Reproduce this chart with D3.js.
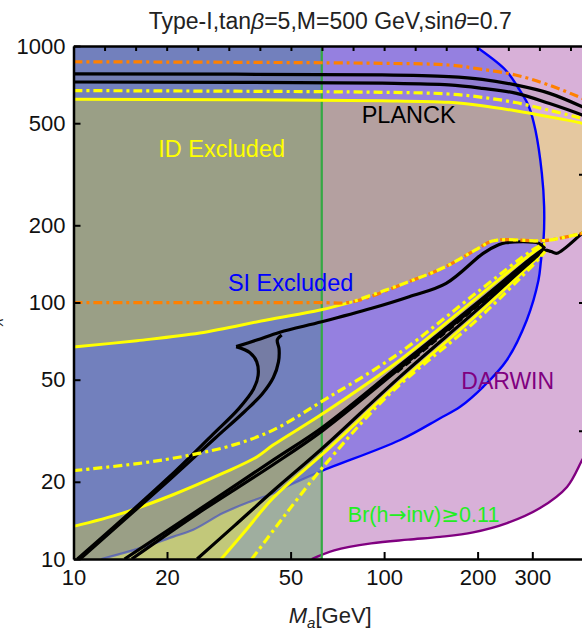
<!DOCTYPE html>
<html>
<head>
<meta charset="utf-8">
<script src="https://cdn.jsdelivr.net/npm/d3@7"></script>
<style>
body { margin: 0; background: #fff; }
text { font-family: "Liberation Sans", Arial, sans-serif; }
</style>
</head>
<body>
<svg id="chart" width="582" height="633"></svg>
<script>
// ---- data (M_a, M_chi) in GeV ----
const xTickVals = [10, 20, 50, 100, 200, 300];
const yTickVals = [10, 20, 50, 100, 200, 500, 1000];
const higgsCut = 63; // Br(h->inv) line, M_a ~ m_h/2

const darwinEdge = [[58.5,10],[69.1,10.8],[90.8,11.5],[119.4,11.9],[151.4,12.2],[193.5,12.7],[248.8,13.8],[317.7,15.8],[388,19.1],[434,24.3],[450,26.2]];

const siEdge = [[12.3,10],[16.3,11.0],[20.9,12.2],[24.3,13.0],[30.3,15.1],[36.9,16.7],[43.9,18.0],[47.4,18.9],[62.2,21.9],[112.6,29.1],[151.5,35.4],[175.7,39.2],[208.8,47.0],[248.5,59.7],[288,85.5],[314,122],[320,146],[326,175],[327.5,236],[322,319],[307,470],[292.6,580],[273,674],[246,806],[201,980],[196,1000]];

const idTopUpper = [[10,620],[98.5,612],[161.6,603],[206.8,585],[264.7,559],[339.1,530],[434.2,500],[450,494]];
const idTopLower = [[10,67],[16,71],[25.5,76],[41.9,85.5],[62.2,93.5],[79,100.6],[120,120.5],[158,138],[200,162],[225,174],[315,174],[340,175],[434,186],[450,188]];
const idFunUpper = [[10,13.4],[14.4,15.1],[20.9,17.8],[30.3,21.6],[38.9,25],[43.9,27.8],[63.7,37],[112.6,59.7],[200,105],[300,156],[330,168]];
const idFunLower = [[29.9,10],[36,13.0],[43.9,17.3],[63.7,25.8],[112.6,49],[200,90],[300,143],[330,160]];

const ddTop = [[10,670],[98.5,660],[161.6,650],[206.8,631],[264.7,602],[339.1,562],[434.2,522],[450,515]];
const ddFunUpper = [[10,22.1],[16.3,23.6],[23.7,25.4],[32.6,27.8],[43.9,31.8],[65.4,42.3],[109.6,62.4],[200,110],[300,160],[330,170]];
const ddFunLower = [[37.5,10],[45,13.4],[52.3,17],[63.7,22.9],[101.9,42.9],[200,86],[300,139],[330,158]];
const orangeTop = [[10,868],[98.5,856],[161.6,843],[206.8,811],[264.7,771],[339.1,705],[434.2,625],[450,612]];
const orangeLow = [[10,100],[60,100],[79,100.6],[120,120.5],[158,138],[200,162],[225,174],[315,174],[340,175],[434,186],[450,188]];

const planckTopA = [[10,778],[98.5,771],[161.6,759],[206.8,741],[264.7,705],[339.1,655],[434.2,580],[450,568]];
const planckTopB = [[10,724],[98.5,716],[161.6,705],[206.8,684],[264.7,655],[339.1,598],[434.2,538],[450,528]];
const planckOuter = [[10.3,10],[20,20.5],[28,30.5],[34,38.5],[38,46],[39.3,52],[38.9,58.7],[37,63.7],[33.4,67.3]];
const planckMain = [[33.4,67.3],[38.9,71.4],[46.2,76.6],[63,84.1],[91.2,94.9],[120.4,105.3],[158.4,118.8],[208.4,155.5],[232.8,167.5],[246.4,171],[315.5,170],[329,162.5]];
const planckInner = [[10.5,10],[20.5,20.5],[28.5,29.5],[35.5,37.5],[40.5,44],[44,51],[45.7,58.7],[45.9,66],[45.3,71.4],[46.8,74.7]];
const funnelA = [[14.6,10],[25,15.4],[43.9,24.3],[63.7,32.8],[112.6,57],[200,100],[300,150],[329,162.5]];
const funnelB = [[15.4,10],[25,15.0],[43.9,23.3],[63.7,31.8],[112.6,55.5],[200,98],[300,148],[329,162]];
const funnelC = [[25,10],[33,13.5],[43.9,18.4],[63.7,27.2],[112.6,51.4],[200,94],[300,146],[329,160],[345,158],[360,155.6],[434,186],[450,192]];
const funnelDash = [[110,53.5],[200,97],[300,147],[329,161.5]];

// label anchors in data coords; parts given as [text, useSymbolFont]
const labels = [
  {parts: [["PLANCK", 0]], at: [120, 500], c: "#000", fs: 23.5},
  {parts: [["ID Excluded", 0]], at: [30, 370], c: "#ffff00", fs: 23.5},
  {parts: [["SI Excluded", 0]], at: [50, 111], c: "#0000ff", fs: 23.5},
  {parts: [["DARWIN", 0]], at: [250, 46], c: "#800080", fs: 23},
  {parts: [["Br(h", 0], ["\u2192", 1], ["inv)", 0], ["\u2265", 1], ["0.11", 0]], at: [134, 14], c: "#22ee22", fs: 21.5}
];

const regionColors = {
  left:  {base: "#a6b4a6", D: "#9fae9f", DB: "#7280bd", DY: "#c2c87a", DBY: "#9a9f86"},
  right: {base: "#ffffff", D: "#d8b0d8", DB: "#9580e0", DY: "#e5c8a0", DBY: "#b4a0a0"}
};

// ---- scales ----
const svg = d3.select("#chart");
const x = d3.scaleLog().domain([10, 450]).range([73.5, 587]);
const y = d3.scaleLog().domain([10, 1000]).range([559, 46]);
const X0 = x.range()[0], X1 = x.range()[1], Y0 = y.range()[1], Y1 = y.range()[0];
const gx = x(higgsCut);

const line = d3.line().x(d => x(d[0])).y(d => y(d[1])).curve(d3.curveCatmullRom.alpha(0.5));
const seg = pts => pts.length > 1 ? line(pts) : `M${x(pts[0][0])},${y(pts[0][1])}`;
const shape = (...parts) => parts.map((p, i) => i ? seg(p).replace(/^M/, "L") : seg(p)).join("") + "Z";
const rev = a => a.slice().reverse();

const darwinArea = shape([[10,10]], darwinEdge, [[450,1000]], [[10,1000]]);
const siArea = shape(siEdge, [[10,1000]], [[10,10]]);
const idArea = shape(idTopUpper, rev(idTopLower)) + shape(idFunUpper, rev(idFunLower), [[10,10]]);
const loopArea = shape(planckOuter, planckMain.slice(0, 3), rev(planckInner));
const topBand = shape(planckTopA, rev(planckTopB));

const defs = svg.append("defs");
const clipRect = (id, a, b) => defs.append("clipPath").attr("id", id).append("rect")
  .attr("x", a).attr("y", Y0).attr("width", b - a).attr("height", Y1 - Y0);
clipRect("clip-plot", X0, X1);
clipRect("clip-left", X0, gx);
clipRect("clip-right", gx, X1);
defs.append("clipPath").attr("id", "clip-si").append("path").attr("d", siArea);

const plot = svg.append("g").attr("clip-path", "url(#clip-plot)");

// filled regions, painted per side of the Higgs line
["left", "right"].forEach(side => {
  const c = regionColors[side];
  const g = plot.append("g").attr("clip-path", `url(#clip-${side})`);
  g.append("rect").attr("x", X0).attr("y", Y0).attr("width", X1 - X0).attr("height", Y1 - Y0).attr("fill", c.base);
  g.append("path").attr("d", darwinArea).attr("fill", c.D);
  g.append("path").attr("d", siArea).attr("fill", c.DB);
  g.append("path").attr("d", idArea).attr("fill", c.DY);
  g.append("g").attr("clip-path", "url(#clip-si)").append("path").attr("d", idArea).attr("fill", c.DBY);
});

plot.append("path").attr("d", loopArea).attr("fill", "rgba(125,115,105,0.3)");
plot.append("path").attr("d", topBand).attr("fill", "rgba(125,115,105,0.12)");

function draw(parent, pts, color, w, dash, offset) {
  return parent.append("path").attr("d", line(pts)).attr("fill", "none")
    .attr("stroke", color).attr("stroke-width", w)
    .attr("stroke-dasharray", dash || null).attr("stroke-dashoffset", offset || 0)
    .attr("stroke-linejoin", "round");
}

// SI boundary (dimmer where the Higgs region covers it)
draw(plot.append("g").attr("clip-path", "url(#clip-left)"), siEdge, "#3f4cc8", 2.2, null).attr("stroke-opacity", 0.65);
draw(plot.append("g").attr("clip-path", "url(#clip-right)"), siEdge, "#0000ff", 2.4, null);
// DARWIN boundary
draw(plot, darwinEdge, "#800080", 2.4, null);

// Higgs invisible line
plot.append("line").attr("x1", gx).attr("x2", gx).attr("y1", Y0).attr("y2", Y1)
  .attr("stroke", "#34a844").attr("stroke-width", 2.2);

// ID solid boundaries
draw(plot, idTopUpper, "#ffff00", 3);
draw(plot, idTopLower.filter(d => d[0] <= 80), "#ffff00", 3);
draw(plot, idFunUpper, "#ffff00", 3);
draw(plot, idFunLower, "#ffff00", 3);

// PLANCK contours
[planckTopA, planckTopB, planckOuter, planckMain, planckInner, funnelA, funnelB, funnelC]
  .forEach(p => draw(plot, p, "#000", 3.2));
draw(plot, funnelDash, "#000", 2.8, "7,4");

// dash-dot projections
const dd = "9,4,3,4";
draw(plot, ddTop, "#ffff00", 3.2, dd);
draw(plot, ddFunUpper, "#ffff00", 3.2, dd);
draw(plot, ddFunLower, "#ffff00", 3.2, dd);
draw(plot, orangeTop, "#ff8000", 3.2, dd);
draw(plot, orangeLow, "#ff8000", 3.2, dd);
draw(plot, idTopLower.filter(d => d[0] >= 79), "#ffff00", 3.2, dd, 10);

// ---- labels in the plot ----
svg.selectAll("text.region").data(labels).enter().append("text").attr("class", "region")
  .attr("x", d => x(d.at[0])).attr("y", d => y(d.at[1]))
  .attr("text-anchor", "middle").attr("font-size", d => d.fs).attr("fill", d => d.c)
  .each(function(d) {
    const t = d3.select(this);
    d.parts.forEach(p => {
      const s = t.append("tspan").text(p[0]);
      if (p[1]) s.style("font-family", "'DejaVu Sans', sans-serif");
    });
  });

// ---- axes / frame ----
function style(g, fs) {
  g.attr("font-family", "Liberation Sans, Arial, sans-serif").attr("font-size", fs);
  g.select(".domain").attr("stroke", "#000").attr("stroke-width", 2.5);
  g.selectAll(".tick line").attr("stroke", "#000").attr("stroke-width", 2);
  g.selectAll(".tick text").attr("fill", "#111");
}
const fmt = d3.format("d");
svg.append("g").attr("transform", `translate(0,${Y1})`)
  .call(d3.axisBottom(x).tickValues(xTickVals).tickFormat(fmt).tickSize(-7).tickSizeOuter(0).tickPadding(10))
  .call(g => style(g, 22));
svg.append("g").attr("transform", `translate(${X0},0)`)
  .call(d3.axisLeft(y).tickValues(yTickVals).tickFormat(fmt).tickSize(-7).tickSizeOuter(0).tickPadding(8))
  .call(g => style(g, 22));
const topExp = d3.range(11, 27).map(k => Math.pow(10, k / 10));
svg.append("g").attr("transform", `translate(0,${Y0})`)
  .call(d3.axisTop(x).tickValues(topExp).tickFormat("").tickSize(-5).tickSizeOuter(0))
  .call(g => style(g, 22));
const rightExp = d3.range(11, 30).map(k => Math.pow(10, k / 10));
svg.append("g").attr("transform", `translate(${X1},0)`)
  .call(d3.axisRight(y).tickValues(rightExp).tickFormat("").tickSize(-5).tickSizeOuter(0))
  .call(g => style(g, 22))
  .call(g => g.selectAll(".tick line").filter(d => Math.abs(Math.log10(d) * 2 - Math.round(Math.log10(d) * 2)) < 1e-6).attr("x2", -8));

// ---- titles ----
const title = svg.append("text").attr("x", (X0 + X1) / 2).attr("y", 29)
  .attr("text-anchor", "middle").attr("font-size", 23).attr("fill", "#222");
title.append("tspan").text("Type-I,tan");
title.append("tspan").attr("font-style", "italic").text("\u03b2");
title.append("tspan").text("=5,M=500 GeV,sin");
title.append("tspan").attr("font-style", "italic").text("\u03b8");
title.append("tspan").text("=0.7");

const xl = svg.append("text").attr("x", (X0 + X1) / 2).attr("y", 623)
  .attr("text-anchor", "middle").attr("font-size", 22).attr("fill", "#222");
xl.append("tspan").attr("font-style", "italic").text("M");
xl.append("tspan").attr("font-style", "italic").attr("font-size", 15).attr("dy", 5).text("a");
xl.append("tspan").attr("dy", -5).text("[GeV]");

// y title sits mostly beyond the left edge, as in the source figure
const yl = svg.append("text").attr("transform", `translate(-5,${(Y0 + Y1) / 2}) rotate(-90)`)
  .attr("text-anchor", "middle").attr("font-size", 22).attr("fill", "#222");
yl.append("tspan").attr("font-style", "italic").text("M");
yl.append("tspan").attr("font-style", "italic").attr("font-size", 15).attr("dy", 5).text("\u03c7");
yl.append("tspan").attr("dy", -5).text("[GeV]");
</script>
</body>
</html>
